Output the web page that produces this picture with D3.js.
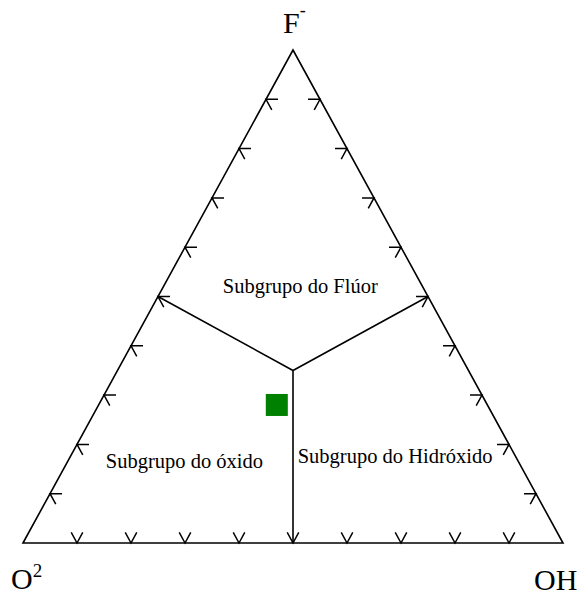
<!DOCTYPE html>
<html>
<head>
<meta charset="utf-8">
<script src="https://cdn.jsdelivr.net/npm/d3@7"></script>
<style>
  body { margin: 0; background: #fff; }
  text { font-family: "Liberation Serif", "DejaVu Serif", serif; fill: #000; }
</style>
</head>
<body>
<script>
// ternary data: fractions of F-, OH-, O2-
var tickFractions = [0.1, 0.2, 0.3, 0.4, 0.5, 0.6, 0.7, 0.8, 0.9];
var junction = { F: 0.35, OH: 0.325, O: 0.325 };
var edgeMids = [
  { F: 0.5, OH: 0,   O: 0.5 },
  { F: 0.5, OH: 0.5, O: 0 },
  { F: 0,   OH: 0.5, O: 0.5 }
];
var regionNames = ["Subgrupo do Flúor", "Subgrupo do óxido", "Subgrupo do Hidróxido"];
var regionAt = [
  { F: 0.507, OH: 0.26 },
  { F: 0.152, OH: 0.223 },
  { F: 0.162, OH: 0.608 }
];
var samples = [{ F: 0.28, OH: 0.33, O: 0.39 }];

var svgwidth = 584, svgheight = 592;

var xscale = d3.scaleLinear().domain([0, 1]).range([23, 563]);
var yscale = d3.scaleLinear().domain([0, 1]).range([543, 50]);

var project = function(d){
  return [xscale(d.OH + d.F / 2), yscale(d.F)];
}

var svg = d3.select("body").append("svg")
            .attr("width", svgwidth)
            .attr("height", svgheight);

var vTop = project({F:1, OH:0}), vLeft = project({F:0, OH:0}), vRight = project({F:0, OH:1});

// triangle outline
svg.append("path")
   .attr("d", "M" + vLeft + "L" + vTop + "L" + vRight + "Z")
   .attr("fill", "none")
   .attr("stroke", "#000")
   .attr("stroke-width", 1.6)
   .attr("stroke-linejoin", "miter");

// edge directions (unit vectors)
var unit = function(a, b){
  var dx = b[0] - a[0], dy = b[1] - a[1], l = Math.sqrt(dx*dx + dy*dy);
  return [dx / l, dy / l];
}
var alongRight = unit(vTop, vRight);  // down-right
var alongLeft = unit(vTop, vLeft);    // down-left
var armLen = 12;

var tickPath = function(p, a1, a2){
  return "M" + (p[0] + a1[0]*armLen) + "," + (p[1] + a1[1]*armLen) +
         "L" + p[0] + "," + p[1] +
         "L" + (p[0] + a2[0]*armLen) + "," + (p[1] + a2[1]*armLen);
}

var ticks = [];
tickFractions.forEach(function(t){
  // left edge (O - F)
  ticks.push(tickPath(project({F: t, OH: 0}), [1, 0], alongRight));
  // right edge (F - OH)
  ticks.push(tickPath(project({F: t, OH: 1 - t}), [-1, 0], alongLeft));
  // bottom edge (O - OH)
  ticks.push(tickPath(project({F: 0, OH: t}), [-alongRight[0], -alongRight[1]], [-alongLeft[0], -alongLeft[1]]));
});

svg.selectAll(".tick").data(ticks).enter()
   .append("path")
   .attr("d", function(d){ return d; })
   .attr("fill", "none")
   .attr("stroke", "#000")
   .attr("stroke-width", 1.5);

// subgroup boundaries
svg.selectAll(".boundary").data(edgeMids).enter()
   .append("line")
   .attr("x1", function(d){ return project(d)[0]; })
   .attr("y1", function(d){ return project(d)[1]; })
   .attr("x2", project(junction)[0])
   .attr("y2", project(junction)[1])
   .attr("stroke", "#000")
   .attr("stroke-width", 1.6);

// region names
svg.selectAll(".region").data(regionNames).enter()
   .append("text")
   .attr("x", function(d, i){ return project(regionAt[i])[0]; })
   .attr("y", function(d, i){ return project(regionAt[i])[1]; })
   .attr("text-anchor", "middle")
   .style("font-size", "20.5px")
   .text(function(d){ return d; });

// sample
svg.selectAll(".sample").data(samples).enter()
   .append("rect")
   .attr("x", function(d){ return project(d)[0] - 11; })
   .attr("y", function(d){ return project(d)[1] - 11; })
   .attr("width", 22)
   .attr("height", 22)
   .attr("fill", "#008000");

// vertex labels
var fl = svg.append("text").attr("x", 283).attr("y", 33).style("font-size", "30px");
fl.append("tspan").text("F");
fl.append("tspan").attr("dy", -17).style("font-size", "18px").text("-");

var ol = svg.append("text").attr("x", 11).attr("y", 589).style("font-size", "30px");
ol.append("tspan").text("O");
ol.append("tspan").attr("dy", -12).style("font-size", "19px").text("2");

svg.append("text").attr("x", 534).attr("y", 590).style("font-size", "30px").text("OH");
</script>
</body>
</html>
